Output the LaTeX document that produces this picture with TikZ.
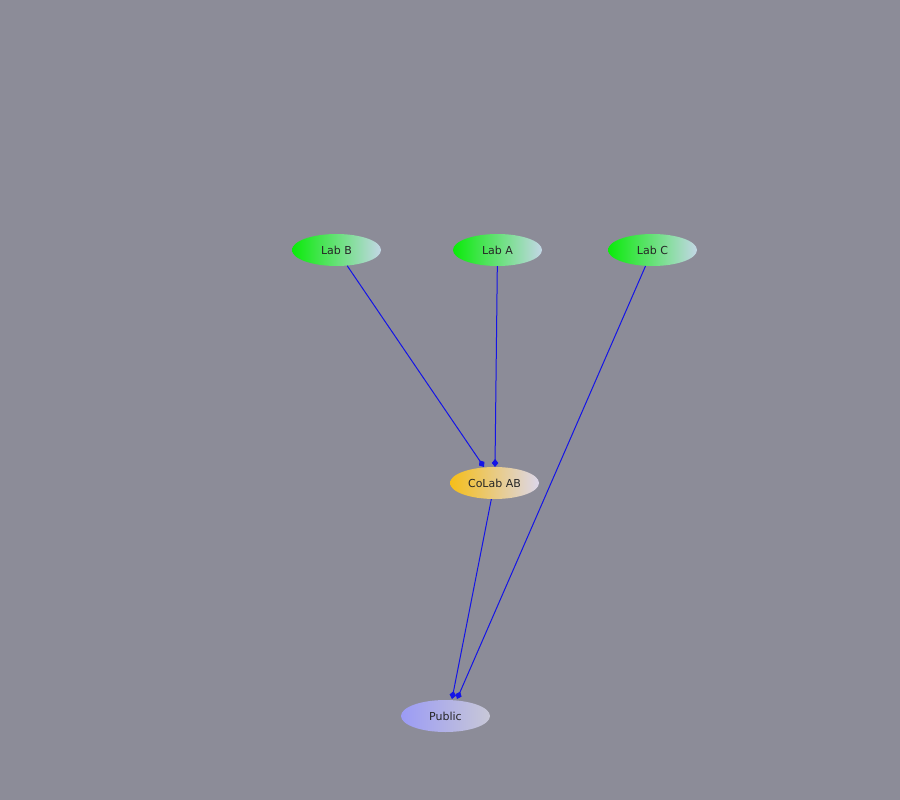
\documentclass[tikz,border=0pt]{standalone}
\usepackage{fontspec}
\setmainfont{DejaVu Sans}
\usetikzlibrary{shapes.geometric,arrows.meta}
\definecolor{bg}{RGB}{140,140,152}
\definecolor{edgeblue}{RGB}{20,20,230}
\definecolor{gA}{RGB}{10,235,10}
\definecolor{gB}{RGB}{195,215,230}
\definecolor{oA}{RGB}{245,190,25}
\definecolor{oB}{RGB}{220,215,235}
\definecolor{pA}{RGB}{155,155,245}
\definecolor{pB}{RGB}{200,200,215}
\tikzset{
  nd/.style={ellipse, minimum width=89pt, minimum height=32pt, inner sep=0pt, font=\fontsize{11}{13}\selectfont, text=black!85},
  lab/.style={nd, left color=gA, right color=gB},
  colab/.style={nd, left color=oA, right color=oB},
  pub/.style={nd, left color=pA, right color=pB},
  conn/.style={draw=edgeblue, line width=1pt, -{Diamond[length=8pt,width=6.5pt]}}
}
\begin{document}
\begin{tikzpicture}[x=1pt,y=-1pt]
\fill[bg] (0,0) rectangle (900,800);
\useasboundingbox (0,0) rectangle (900,800);
\node[lab] (labB) at (336.5,250) {Lab B};
\node[lab] (labA) at (497.5,250) {Lab A};
\node[lab] (labC) at (652.5,250) {Lab C};
\node[colab] (colab) at (494.5,483) {CoLab AB};
\node[pub] (pub) at (445.5,716) {Public};
\coordinate (cB) at (484,467);
\coordinate (cA) at (495,467);
\coordinate (pC) at (457,699);
\coordinate (pAB) at (452,699);
\draw[conn] (labB) -- (cB);
\draw[conn] (labA) -- (cA);
\draw[conn] (labC) -- (pC);
\draw[conn] (colab) -- (pAB);
\end{tikzpicture}
\end{document}
